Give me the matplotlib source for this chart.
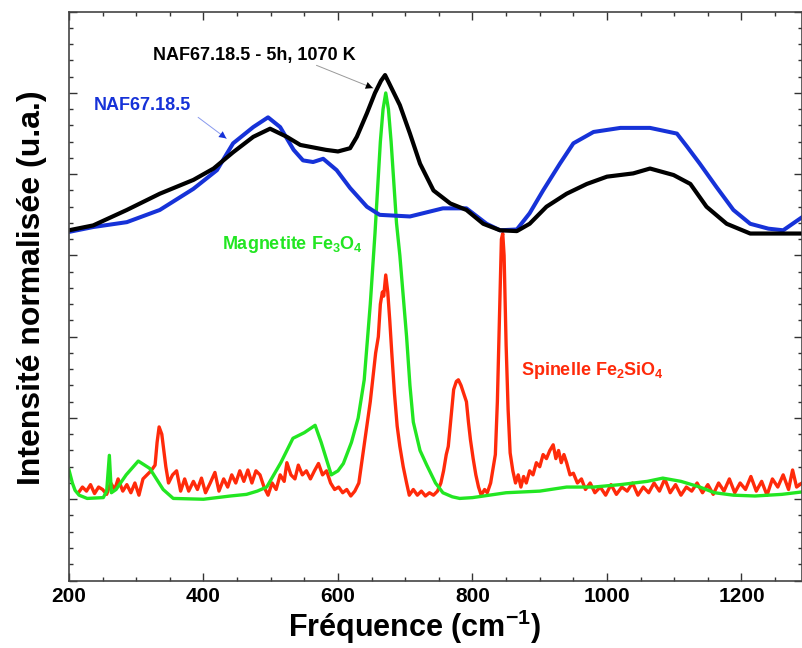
import matplotlib
matplotlib.use("Agg")
import matplotlib.pyplot as plt
from matplotlib.ticker import MultipleLocator

# ---------------------------------------------------------------------------
# Data (arbitrary normalised units)
# ---------------------------------------------------------------------------

# NAF67.18.5 (as received, blue)
blue_x = [200, 236, 286, 335, 385, 420, 444, 474, 496, 514, 534, 548, 563, 578,
          598, 618, 643, 662, 707, 756, 791, 821, 841, 866, 885, 905, 930, 950,
          980, 1020, 1064, 1104, 1119, 1138, 1163, 1188, 1213, 1240, 1262, 1290]
blue_y = [4.29, 4.35, 4.41, 4.56, 4.82, 5.05, 5.38, 5.58, 5.70, 5.58, 5.30, 5.17,
          5.15, 5.19, 5.05, 4.83, 4.60, 4.50, 4.48, 4.58, 4.58, 4.39, 4.31, 4.32,
          4.52, 4.80, 5.13, 5.38, 5.52, 5.57, 5.57, 5.50, 5.34, 5.13, 4.84, 4.56,
          4.39, 4.33, 4.31, 4.47]

# NAF67.18.5 - 5h, 1070 K (black)
black_x = [200, 236, 286, 335, 385, 415, 444, 474, 499, 524, 544, 582, 600, 618,
           628, 643, 655, 664, 670, 676, 692, 707, 722, 742, 767, 791, 816, 841,
           866, 885, 910, 940, 970, 1000, 1039, 1064, 1099, 1124, 1148, 1178,
           1213, 1262, 1290]
black_y = [4.31, 4.37, 4.56, 4.76, 4.93, 5.07, 5.27, 5.46, 5.56, 5.46, 5.36, 5.30,
           5.28, 5.32, 5.46, 5.75, 6.00, 6.15, 6.22, 6.12, 5.85, 5.50, 5.13, 4.80,
           4.64, 4.56, 4.39, 4.31, 4.30, 4.39, 4.60, 4.76, 4.88, 4.97, 5.01, 5.07,
           4.99, 4.88, 4.60, 4.39, 4.27, 4.27, 4.27]

# Magnetite Fe3O4 reference (green)
green_x = [200, 205, 209, 215, 227, 251, 256, 260, 263, 270, 285, 303, 320, 340,
           355, 400, 440, 464, 480, 494, 515, 533, 550, 566, 575, 590, 600, 608,
           620, 630, 639, 648, 655, 663, 667, 671, 675, 679, 687, 692, 702, 707,
           712, 722, 732, 745, 756, 770, 781, 800, 850, 900, 940, 980, 1020, 1060,
           1083, 1110, 1138, 1160, 1188, 1220, 1260, 1290]
green_y = [1.36, 1.20, 1.11, 1.05, 1.01, 1.02, 1.10, 1.54, 1.08, 1.12, 1.30, 1.47,
           1.38, 1.12, 1.01, 1.00, 1.04, 1.06, 1.10, 1.15, 1.45, 1.75, 1.82, 1.91,
           1.70, 1.30, 1.35, 1.44, 1.70, 2.00, 2.47, 3.40, 4.27, 5.40, 5.80, 6.00,
           5.80, 5.40, 4.40, 4.00, 3.00, 2.40, 1.95, 1.60, 1.42, 1.20, 1.08, 1.03,
           1.01, 1.02, 1.08, 1.10, 1.15, 1.15, 1.18, 1.22, 1.26, 1.22, 1.15, 1.08,
           1.05, 1.04, 1.06, 1.09]

# Spinelle Fe2SiO4 reference (red)
red_x = [214, 220, 226, 232, 238, 244, 250, 256, 262, 268, 273, 280, 286, 292, 298,
         304, 310, 316, 322, 328, 331, 334, 338, 341, 344, 348, 354, 360, 366, 372,
         378, 385, 391, 397, 403, 410, 417, 423, 430, 436, 442, 448, 454, 460, 466,
         472, 478, 484, 490, 496, 502, 508, 514, 520, 524, 530, 536, 541, 547, 553,
         559, 565, 571, 577, 583, 589, 595, 601, 607, 613, 619, 625, 631, 637, 643,
         648, 652, 656, 660, 663, 666, 668, 671, 674, 677, 680, 684, 688, 692, 697,
         702, 706, 712, 718, 724, 730, 736, 742, 748, 753, 757, 761, 764, 768, 772,
         776, 779, 783, 787, 791, 794, 797, 801, 805, 809, 813, 818, 822, 827, 831,
         834, 837, 840, 843, 845, 847, 850, 853, 856, 860, 864, 868, 872, 876, 880,
         885, 890, 895, 900, 905, 910, 915, 920, 924, 928, 932, 936, 940, 945, 950,
         956, 962, 968, 975, 982, 990, 998, 1006, 1014, 1022, 1030, 1038, 1046,
         1054, 1062, 1070, 1078, 1086, 1094, 1102, 1110, 1118, 1126, 1134, 1142,
         1150, 1158, 1166, 1174, 1182, 1190, 1198, 1206, 1214, 1222, 1230, 1238,
         1246, 1254, 1262, 1270, 1276, 1282, 1290]
red_y = [1.08, 1.15, 1.10, 1.18, 1.07, 1.15, 1.12, 1.06, 1.20, 1.12, 1.25, 1.10,
         1.18, 1.08, 1.20, 1.05, 1.25, 1.30, 1.35, 1.42, 1.70, 1.89, 1.80, 1.60,
         1.40, 1.20, 1.30, 1.35, 1.10, 1.25, 1.10, 1.22, 1.12, 1.26, 1.08, 1.20,
         1.33, 1.10, 1.25, 1.15, 1.30, 1.20, 1.35, 1.22, 1.36, 1.20, 1.35, 1.30,
         1.15, 1.05, 1.20, 1.12, 1.30, 1.22, 1.45, 1.30, 1.25, 1.42, 1.30, 1.35,
         1.25, 1.35, 1.44, 1.30, 1.35, 1.20, 1.12, 1.15, 1.08, 1.12, 1.04, 1.10,
         1.20, 1.55, 1.90, 2.20, 2.50, 2.80, 3.00, 3.40, 3.55, 3.50, 3.76, 3.55,
         3.20, 2.80, 2.30, 1.90, 1.65, 1.40, 1.20, 1.05, 1.12, 1.05, 1.10, 1.04,
         1.08, 1.05, 1.10, 1.20, 1.35, 1.55, 1.65, 2.00, 2.35, 2.45, 2.47, 2.40,
         2.30, 2.20, 1.95, 1.73, 1.50, 1.30, 1.15, 1.05, 1.12, 1.08, 1.20, 1.40,
         1.55, 2.20, 3.20, 4.20, 4.27, 4.00, 2.90, 2.10, 1.57, 1.35, 1.20, 1.30,
         1.15, 1.28, 1.20, 1.35, 1.30, 1.45, 1.40, 1.55, 1.50, 1.60, 1.67, 1.50,
         1.60, 1.45, 1.55, 1.45, 1.30, 1.32, 1.20, 1.25, 1.12, 1.20, 1.08, 1.15,
         1.05, 1.18, 1.06, 1.15, 1.10, 1.20, 1.05, 1.15, 1.08, 1.20, 1.10, 1.25,
         1.08, 1.18, 1.05, 1.15, 1.10, 1.20, 1.08, 1.18, 1.06, 1.20, 1.10, 1.25,
         1.08, 1.20, 1.12, 1.28, 1.10, 1.22, 1.05, 1.25, 1.15, 1.30, 1.12, 1.36,
         1.15, 1.20]

# ---------------------------------------------------------------------------
# Plot
# ---------------------------------------------------------------------------

plt.rcParams["font.family"] = ["Liberation Sans", "DejaVu Sans"]
plt.rcParams["font.weight"] = "bold"
plt.rcParams["mathtext.fontset"] = "custom"
plt.rcParams["mathtext.rm"] = "Liberation Sans:bold"
plt.rcParams["mathtext.default"] = "rm"

C_BLUE = "#1632d8"
C_GREEN = "#22e622"
C_RED = "#ff2a0a"


def draw_arrow(ax, start, tip, line_color, head_color):
    """Thin leader line with a darker arrowhead, like the original figure."""
    ax.annotate("", xy=tip, xytext=start,
                arrowprops=dict(arrowstyle="-", color=line_color, lw=0.7,
                                shrinkA=0, shrinkB=0))
    ax.annotate("", xy=tip, xytext=start,
                arrowprops=dict(arrowstyle="-|>", color=head_color, lw=0,
                                shrinkA=0, shrinkB=0, mutation_scale=13))


fig = plt.figure(figsize=(8.02, 6.48), dpi=100)
ax = fig.add_axes([69 / 802, 1 - 580.5 / 648, 1 - 69 / 802, (580.5 - 11.7) / 648])

ax.plot(red_x, red_y, color=C_RED, lw=2.4)
ax.plot(green_x, green_y, color=C_GREEN, lw=2.4)
ax.plot(blue_x, blue_y, color=C_BLUE, lw=2.9)
ax.plot(black_x, black_y, color="black", lw=3.0)

ax.set_xlim(200, 1290)
ax.set_ylim(0, 7)
ax.xaxis.set_major_locator(MultipleLocator(200))
ax.xaxis.set_minor_locator(MultipleLocator(50))
ax.yaxis.set_major_locator(MultipleLocator(1))
ax.yaxis.set_minor_locator(MultipleLocator(0.2))
ax.tick_params(which="both", direction="in", top=True, right=True, color="#333333")
ax.tick_params(which="major", length=6, width=1.0, labelsize=15, pad=5)
ax.tick_params(which="minor", length=3, width=1.0)
ax.tick_params(axis="y", labelleft=False)
for sp in ax.spines.values():
    sp.set_color("#444444")
    sp.set_linewidth(1.2)

# axis titles placed in figure pixels to follow the original layout
fig.text(415 / 802, 1 - 637 / 648, "Fréquence (cm$^{-1}$)", ha="center", va="baseline",
         fontsize=22, fontweight="bold")
fig.text(32 / 802, 1 - 288 / 648, "Intensité normalisée (u.a.)", ha="center", va="center",
         rotation=90, fontsize=23, fontweight="bold")

# labels + arrows
ax.text(475, 6.46, "NAF67.18.5 - 5h, 1070 K", ha="center", va="center",
        fontsize=13, fontweight="bold", color="black")
draw_arrow(ax, (568, 6.34), (652, 6.06), "#999999", "black")
ax.text(309, 5.85, "NAF67.18.5", ha="center", va="center",
        fontsize=13, fontweight="bold", color=C_BLUE)
draw_arrow(ax, (392, 5.70), (434, 5.44), "#8899ee", C_BLUE)
ax.text(533, 4.13, "Magnetite Fe$_3$O$_4$", ha="center", va="center",
        fontsize=13, fontweight="bold", color=C_GREEN)
ax.text(978, 2.59, "Spinelle Fe$_2$SiO$_4$", ha="center", va="center",
        fontsize=13, fontweight="bold", color=C_RED)

fig.savefig("out.png", dpi=100)
